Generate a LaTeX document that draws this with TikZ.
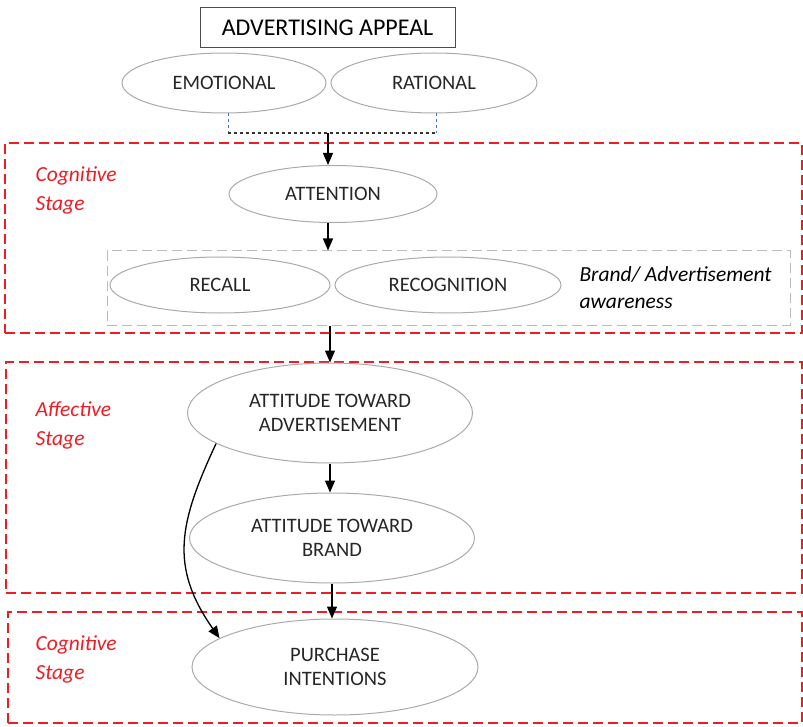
\documentclass[tikz,border=0pt]{standalone}
\usepackage{fontspec}
\setmainfont{Carlito}
\usetikzlibrary{shapes.geometric,arrows.meta}
\definecolor{stagered}{RGB}{238,28,36}
\definecolor{ovalgray}{RGB}{170,170,170}
\definecolor{linkblue}{RGB}{68,114,196}

\begin{document}
\begin{tikzpicture}[x=1pt,y=-1pt,
    oval/.style={ellipse, draw=ovalgray, line width=1pt, inner sep=0pt, align=center,
      text=black!85, font=\fontsize{20.5}{24}\selectfont},
    stagebox/.style={draw=stagered, line width=1.3pt, dash pattern=on 10pt off 5pt, inner sep=0pt},
    stagelabel/.style={text=stagered, anchor=west, align=left, font=\fontsize{21.5}{29}\selectfont\itshape},
    flow/.style={-{Triangle[length=12pt,width=10pt]}, line width=1.3pt, black}]
    \useasboundingbox (0,0) rectangle (803,727);

    % stage boxes
    \node[stagebox, minimum width=797pt, minimum height=190pt] (cog1) at (403.5,238) {};
    \node[stagebox, minimum width=796pt, minimum height=231pt] (aff) at (404,477.5) {};
    \node[stagebox, minimum width=794pt, minimum height=111pt] (cog2) at (405,667.5) {};
    \node[draw=ovalgray!80, line width=1pt, dash pattern=on 10pt off 5pt,
      minimum width=683pt, minimum height=74pt, inner sep=0pt] (aware) at (448.5,288) {};

    \node[stagelabel] (cog1lbl) at (32,190) {Cognitive\\Stage};
    \node[stagelabel] (afflbl) at (32,425) {Affective\\Stage};
    \node[stagelabel] (cog2lbl) at (32,659) {Cognitive\\Stage};

    % appeal
    \node[draw=black!70, line width=1pt, minimum width=255pt, minimum height=40pt,
      font=\fontsize{24}{28}\selectfont] (appeal) at (327.5,28) {ADVERTISING APPEAL};
    \node[oval, minimum width=204pt, minimum height=60pt] (emo) at (224,83) {EMOTIONAL};
    \node[oval, minimum width=206pt, minimum height=60pt] (rat) at (434,83) {RATIONAL};

    % cognitive
    \node[oval, minimum width=208pt, minimum height=57pt] (att) at (333,194) {ATTENTION};
    \node[oval, minimum width=220pt, minimum height=56pt] (recall) at (220,285) {RECALL};
    \node[oval, minimum width=226pt, minimum height=56pt] (recog) at (448,285) {RECOGNITION};
    \node[anchor=west, align=left, font=\fontsize{21.5}{27}\selectfont\itshape] (awaretxt) at (576,288)
      {Brand/ Advertisement\\awareness};

    % affective
    \node[oval, minimum width=285pt, minimum height=100pt] (atadv) at (330,413) {ATTITUDE TOWARD\\ADVERTISEMENT};
    \node[oval, minimum width=285pt, minimum height=90pt] (atbrand) at (332,538) {ATTITUDE TOWARD\\BRAND};
    \node[oval, minimum width=286pt, minimum height=96pt] (purch) at (335,667) {PURCHASE\\INTENTIONS};

    % joining line
    \coordinate (jl) at (228,133);
    \coordinate (jr) at (436,133);
    \coordinate (jm) at (328,133);
    \draw[linkblue, line width=1pt, dashed] (jl |- emo.south) -- (jl);
    \draw[linkblue, line width=1pt, dashed] (jr |- rat.south) -- (jr);
    \draw[black!80, line width=1.2pt, dashed] (jl) -- (jr);

    % arrows
    \draw[flow] (jm) -- (jm |- att.north);
    \draw[flow] (att.south -| jm) -- (jm |- aware.north);
    \draw[flow] (aware.south -| atadv.north) -- (atadv.north);
    \draw[flow] (atadv.south) -- (atadv.south |- atbrand.north);
    \draw[flow] (atbrand.south) -- (atbrand.south |- purch.north);
    \draw[flow] (atadv.195) to[out=245, in=125, looseness=1.15] (purch.166);
\end{tikzpicture}
\end{document}
